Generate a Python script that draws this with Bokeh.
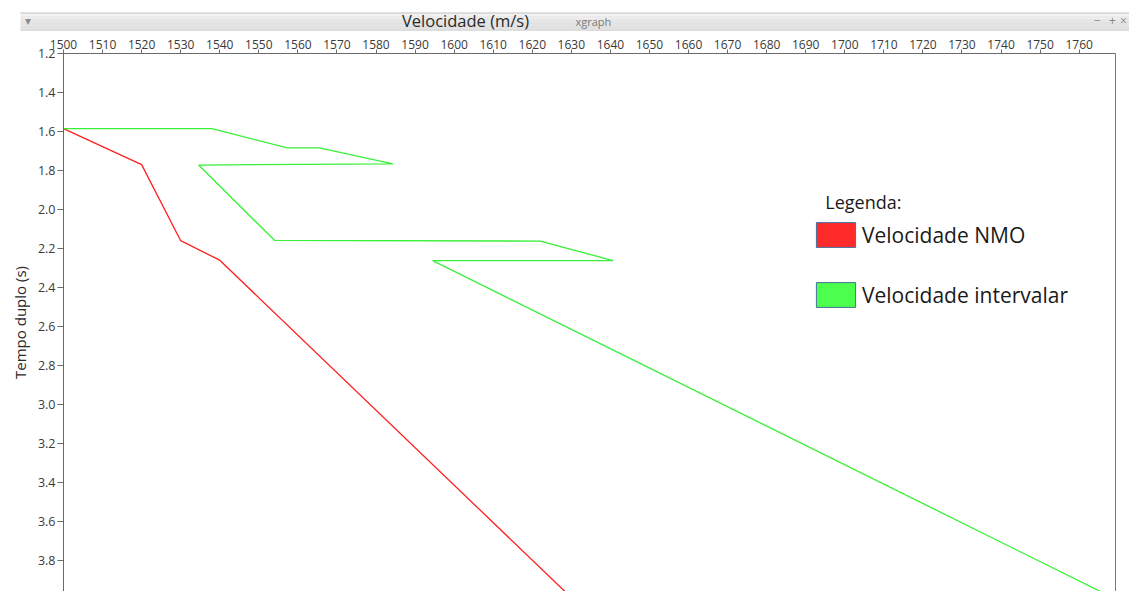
from bokeh.plotting import figure
from bokeh.models import (Range1d, FixedTicker, PrintfTickFormatter, LinearAxis,
                          Legend, LegendItem, Label)
from bokeh.layouts import column
from bokeh.core.properties import value
from bokeh.embed import file_html
from bokeh.resources import INLINE

# --- data -------------------------------------------------------------
# NMO velocity picks (m/s) against two-way time (s)
nmo_velocity = [1500, 1520, 1530, 1540, 1630.5]
nmo_time = [1.585, 1.77, 2.16, 2.26, 4.0]

# interval velocity derived from the NMO picks
interval_velocity = [1500, 1538, 1557.3, 1565.5, 1584.3, 1534.6, 1554,
                     1622, 1640.7, 1594.5, 1769.6]
interval_time = [1.585, 1.585, 1.684, 1.684, 1.766, 1.772, 2.158,
                 2.162, 2.262, 2.262, 4.0]

x_ticks = list(range(1500, 1770, 10))
y_ticks = [1.2, 1.4, 1.6, 1.8, 2.0, 2.2, 2.4, 2.6, 2.8, 3.0, 3.2, 3.4, 3.6, 3.8]

series_labels = ["Velocidade NMO", "Velocidade intervalar"]
line_colors = ["#ff1f1f", "#38f038"]
key_colors = ["#ff2b2b", "#4dff4d"]

FONT = "Open Sans"
W, H = 1129, 591
BAR_H = 31

# --- window title bar ---------------------------------------------------
bar = figure(width=W, height=BAR_H, x_range=Range1d(0, W), y_range=Range1d(BAR_H, 0),
             x_axis_type=None, y_axis_type=None, toolbar_location=None,
             output_backend="svg", min_border=0, outline_line_color=None,
             border_fill_color="white", background_fill_color="white",
             frame_align=False)
bar.xgrid.visible = False
bar.ygrid.visible = False

shades = ["#f0f0f0", "#ebebeb", "#e7e7e7", "#e3e3e3", "#e0e0e0", "#dddddd"]
band = (BAR_H - 12) / len(shades)
bar.quad(left=[20] * len(shades), right=[W] * len(shades),
         top=[12 + i * band for i in range(len(shades))],
         bottom=[12 + (i + 1) * band for i in range(len(shades))],
         fill_color=shades, line_color=None)
bar.segment(x0=[20], y0=[12.5], x1=[W], y1=[12.5], line_color="#c6c6c6", line_width=1)

bar.text(x=[465], y=[19.8], text=["Velocidade (m/s)"], text_font=value(FONT),
         text_font_size="16.5px", text_color="#2a2a2a", text_align="center",
         text_baseline="middle")
bar.text(x=[575], y=[21], text=["xgraph"], text_font=value(FONT),
         text_font_size="11px", text_color="#7a7a7a", text_align="left",
         text_baseline="middle")
bar.text(x=[27, 1097, 1112, 1123], y=[20, 20, 20, 20], text=["▾", "−", "+", "×"],
         text_font=value(FONT), text_font_size="12px", text_color="#8a8a8a",
         text_align="center", text_baseline="middle")

# --- velocity plot ------------------------------------------------------
p = figure(width=W, height=H - BAR_H, x_range=Range1d(1500, 1769.3),
           y_range=Range1d(3.959, 1.2), x_axis_location="above",
           toolbar_location=None, output_backend="svg",
           min_border_left=63, min_border_right=14, min_border_top=22,
           min_border_bottom=0, outline_line_color=None,
           border_fill_color="white", background_fill_color="white",
           frame_align=False)
p.xgrid.visible = False
p.ygrid.visible = False

axis_color = "#6a6a6a"
tick_color = "#3a3a3a"

xa = p.xaxis[0]
xa.ticker = FixedTicker(ticks=x_ticks)
xa.major_label_text_font = FONT
xa.major_label_text_font_size = "12px"
xa.major_label_text_color = tick_color
xa.major_tick_out = 4
xa.major_tick_in = 0
xa.minor_tick_line_color = None
xa.major_label_standoff = 1
xa.axis_line_color = axis_color
xa.major_tick_line_color = axis_color

ya = p.yaxis[0]
ya.ticker = FixedTicker(ticks=y_ticks)
ya.formatter = PrintfTickFormatter(format="%.1f")
ya.major_label_text_font = FONT
ya.major_label_text_font_size = "12.5px"
ya.major_label_text_color = tick_color
ya.major_tick_out = 6
ya.major_tick_in = 0
ya.minor_tick_line_color = None
ya.major_label_standoff = 2
ya.axis_line_color = axis_color
ya.major_tick_line_color = axis_color
ya.axis_label = "Tempo duplo (s)"
ya.axis_label_text_font = FONT
ya.axis_label_text_font_size = "15px"
ya.axis_label_text_font_style = "normal"
ya.axis_label_text_color = "#2a2a2a"
ya.axis_label_standoff = 5

# plain border on the right side of the frame
right_edge = LinearAxis(ticker=FixedTicker(ticks=[]), axis_line_color="#7a7a7a",
                        major_tick_out=0, major_tick_in=0, minor_tick_out=0,
                        minor_tick_in=0, major_label_standoff=0)
p.add_layout(right_edge, "right")

# --- curves ------------------------------------------------------------------
p.line(nmo_velocity, nmo_time, line_color=line_colors[0], line_width=1.3)
p.line(interval_velocity, interval_time, line_color=line_colors[1], line_width=1.3)

# colour keys for the legend (a single undrawn NaN row each)
nan = float("nan")
keys = []
for c in key_colors:
    keys.append(p.quad(left=[nan], right=[nan], top=[nan], bottom=[nan],
                       fill_color=c, line_color="#41719c", line_width=1))

legend = Legend(items=[LegendItem(label=lab, renderers=[r])
                       for lab, r in zip(series_labels, keys)],
                location=(748, 281), glyph_width=49, glyph_height=31,
                label_text_font=FONT, label_text_font_size="21px",
                label_text_color="#1a1a1a", label_standoff=2, spacing=29,
                padding=0, margin=0, border_line_color=None,
                background_fill_alpha=0)
p.add_layout(legend)

p.add_layout(Label(x=1695, y=1.9605, text="Legenda:", text_font=FONT,
                   text_font_size="18px", text_color="#1a1a1a",
                   text_baseline="alphabetic"))

layout = column(bar, p, spacing=0)
open("out.html", "w").write(file_html(layout, INLINE))
